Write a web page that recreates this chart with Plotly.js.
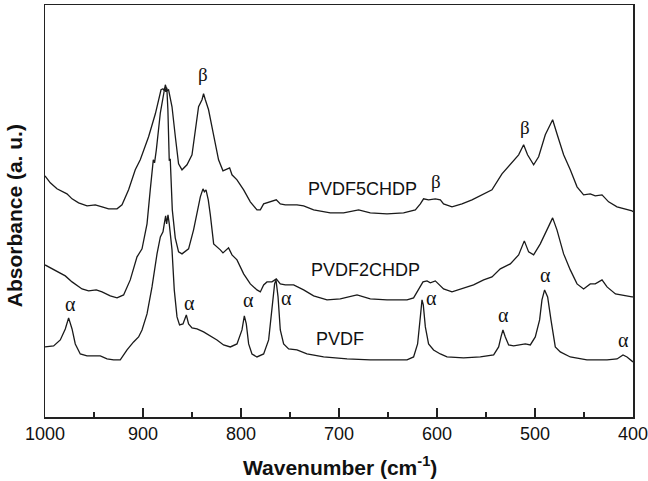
<!DOCTYPE html>
<html>
<head>
<meta charset="utf-8">
<script src="https://cdn.plot.ly/plotly-3.0.1.min.js"></script>
<style>html,body{margin:0;padding:0;background:#fff;}#chart{width:648px;height:481px;}</style>
</head>
<body>
<div id="chart"></div>
<script>
// PVDF5CHDP (top spectrum)
var wn5 = [1000,994.6,987.8,977.6,972.4,965.7,957.1,948.7,941.8,935.1,926.5,921.4,914.7,907.9,902.8,894.3,887.4,881.6,879.6,878.3,877.2,875.5,873.9,870.4,867.0,863.7,860.2,855.1,850.0,846.6,843.3,839.8,838.2,836.4,833.1,828.0,822.9,818.4,814.3,811.6,809.2,804.1,797.3,790.5,783.7,780.3,776.9,770.1,764.0,759.9,754.8,742.9,736.1,725.9,708.9,695.3,680.0,668.1,651.0,634.1,622.1,617.0,613.7,608.6,601.7,596.6,593.3,584.7,574.5,564.3,554.1,543.9,533.7,525.2,516.7,511.6,507.6,501.4,496.3,489.5,482.0,477.6,470.8,464.0,457.1,450.4,443.6,438.5,431.6,424.9,416.3,401.0,400];
var ab5 = [2.41,2.34,2.28,2.23,2.18,2.14,2.11,2.12,2.10,2.08,2.08,2.12,2.27,2.47,2.57,2.80,3.03,3.27,3.28,3.26,3.32,3.26,3.27,3.10,2.80,2.53,2.47,2.52,2.62,2.87,3.10,3.17,3.23,3.17,3.07,2.82,2.57,2.46,2.48,2.49,2.42,2.37,2.27,2.15,2.07,2.07,2.13,2.15,2.17,2.13,2.12,2.12,2.11,2.07,2.04,2.04,2.07,2.04,2.03,2.04,2.07,2.13,2.18,2.17,2.18,2.17,2.13,2.10,2.13,2.17,2.22,2.27,2.43,2.52,2.62,2.72,2.62,2.52,2.60,2.82,2.97,2.83,2.62,2.47,2.30,2.22,2.23,2.21,2.22,2.15,2.10,2.06,2.05];

// PVDF2CHDP (middle spectrum)
var wn2 = [1000,991.2,979.3,972.4,962.2,955.5,947.7,941.8,933.4,926.5,919.8,913.0,906.1,901.0,895.9,892.6,889.5,888.2,886.4,882.3,879.0,877.8,876.7,875.7,874.6,874.0,873.2,872.2,870.1,867.1,863.7,860.2,853.5,848.4,844.9,841.5,838.8,837.4,835.7,833.4,831.3,827.9,821.1,818.4,812.7,809.2,804.1,797.3,790.5,783.7,780.3,776.9,773.5,768.4,764.0,759.9,754.8,746.3,736.1,725.9,712.2,698.7,681.6,668.1,651.0,630.6,623.9,618.8,614.3,610.2,606.8,601.7,593.3,584.7,574.5,562.7,552.4,543.9,535.4,525.2,516.7,510.9,506.5,501.4,494.6,487.8,482.0,477.6,470.8,464.0,457.1,450.4,443.6,438.5,431.6,426.5,417.9,401.0,400];
var ab2 = [1.52,1.47,1.41,1.35,1.28,1.26,1.27,1.25,1.21,1.19,1.22,1.37,1.60,1.68,1.93,2.27,2.57,2.54,2.67,3.04,3.22,3.29,3.25,3.29,3.07,2.62,2.56,2.58,2.07,1.79,1.65,1.63,1.68,1.87,2.03,2.20,2.28,2.25,2.27,2.17,2.02,1.73,1.67,1.64,1.69,1.62,1.57,1.43,1.33,1.27,1.25,1.32,1.35,1.35,1.38,1.33,1.32,1.32,1.27,1.21,1.17,1.18,1.22,1.18,1.17,1.17,1.19,1.27,1.35,1.36,1.34,1.36,1.28,1.25,1.28,1.32,1.37,1.40,1.48,1.53,1.62,1.76,1.65,1.62,1.73,1.88,1.99,1.87,1.63,1.47,1.33,1.28,1.33,1.33,1.37,1.30,1.23,1.20,1.20];

// PVDF (bottom spectrum)
var wn0 = [1000,991.2,984.4,979.3,975.9,972.4,969.1,964.0,957.1,950.4,943.6,936.7,930.0,923.2,916.3,909.6,904.5,901.0,895.9,890.8,885.7,882.3,879.6,878.3,876.9,875.9,874.5,873.2,870.4,868.1,865.3,862.7,859.2,855.8,853.5,850.0,844.9,838.2,831.3,824.5,817.8,810.9,804.1,799.0,796.6,794.6,792.2,788.8,783.7,776.9,771.8,768.4,765.7,764.3,762.2,759.9,756.5,751.4,742.9,732.7,715.7,691.8,668.1,647.7,630.6,623.9,619.8,617.0,615.3,614.0,611.9,608.6,603.5,596.6,589.8,572.9,555.8,542.2,537.1,534.7,532.7,530.3,526.9,521.8,515.0,509.9,504.8,499.7,495.3,492.9,490.2,487.1,483.7,479.3,474.2,464.0,447.0,426.5,416.3,410.2,406.1,401.0,400];
var ab0 = [0.70,0.71,0.77,0.88,0.99,0.88,0.73,0.63,0.61,0.61,0.61,0.58,0.57,0.57,0.67,0.75,0.80,0.87,1.03,1.30,1.63,1.80,1.85,1.93,2.01,1.93,2.02,1.93,1.67,1.27,1.00,0.92,0.93,1.02,0.93,0.89,0.88,0.85,0.81,0.77,0.72,0.70,0.73,0.87,1.01,0.93,0.73,0.63,0.60,0.63,0.77,1.07,1.33,1.37,1.20,0.87,0.73,0.68,0.67,0.63,0.60,0.58,0.57,0.57,0.57,0.60,0.73,1.00,1.17,1.12,0.90,0.73,0.67,0.63,0.60,0.59,0.60,0.62,0.70,0.80,0.87,0.80,0.72,0.71,0.72,0.73,0.72,0.80,0.97,1.17,1.27,1.20,0.97,0.70,0.65,0.60,0.57,0.57,0.58,0.62,0.60,0.55,0.55];

// labels
var seriesNames = ["PVDF5CHDP","PVDF2CHDP","PVDF"];
var nameX = [676.5, 673.2, 698.7];
var nameY = [2.28, 1.47, 0.78];
var betaX = [838.5, 600.7, 509.9];
var betaY = [3.42, 2.35, 2.89];
var alphaX = [974.2, 852.8, 792.2, 753.1, 605.8, 532.0, 489.5, 409.6];
var alphaY = [1.13, 1.14, 1.17, 1.19, 1.19, 1.02, 1.42, 0.77];
var xTicks = [1000, 900, 800, 700, 600, 500, 400];
var xMinorTicks = [950, 850, 750, 650, 550, 450];

var lineStyle = {color:'#1a1a1a', width:1.3};
var traces = [
  {x:wn5, y:ab5, name:seriesNames[0], mode:'lines', line:lineStyle, hoverinfo:'skip'},
  {x:wn2, y:ab2, name:seriesNames[1], mode:'lines', line:lineStyle, hoverinfo:'skip'},
  {x:wn0, y:ab0, name:seriesNames[2], mode:'lines', line:lineStyle, hoverinfo:'skip'}
];

var ann = [];
for (var i=0;i<seriesNames.length;i++){
  ann.push({x:nameX[i], y:nameY[i], xref:'x', yref:'y', text:seriesNames[i], showarrow:false,
    xanchor:'center', yanchor:'middle',
    font:{family:'Liberation Sans, Arial, sans-serif', size:18, color:'#111'}});
}
for (var i=0;i<betaX.length;i++){
  ann.push({x:betaX[i], y:betaY[i], xref:'x', yref:'y', text:'β', showarrow:false,
    xanchor:'center', yanchor:'middle',
    font:{family:'Liberation Serif, Times New Roman, serif', size:19, color:'#111'}});
}
for (var i=0;i<alphaX.length;i++){
  ann.push({x:alphaX[i], y:alphaY[i], xref:'x', yref:'y', text:'α', showarrow:false,
    xanchor:'center', yanchor:'middle',
    font:{family:'Liberation Serif, Times New Roman, serif', size:20, color:'#111'}});
}
ann.push({x:-0.0505, y:0.488, xref:'paper', yref:'paper', text:'Absorbance (a. u.)', textangle:-90, showarrow:false,
  xanchor:'center', yanchor:'middle',
  font:{family:'Liberation Sans, Arial, sans-serif', size:21, color:'#111', weight:'bold'}});
ann.push({x:0.502, y:-0.12, xref:'paper', yref:'paper', text:'Wavenumber (cm<sup>-1</sup>)', showarrow:false,
  xanchor:'center', yanchor:'middle',
  font:{family:'Liberation Sans, Arial, sans-serif', size:21, color:'#111', weight:'bold'}});

var layout = {
  width:648, height:481,
  margin:{l:44.7, r:15.3, t:5, b:64.3},
  paper_bgcolor:'#fff', plot_bgcolor:'#fff',
  showlegend:false,
  xaxis:{range:[1000,400], tickvals:xTicks, ticktext:xTicks.map(String), ticks:'inside', ticklen:9, tickwidth:1.2, tickcolor:'#222',
    ticklabeloverflow:'allow',
    showline:true, linecolor:'#222', linewidth:1.5, mirror:true, showgrid:false, zeroline:false,
    minor:{tickvals:xMinorTicks, ticks:'inside', ticklen:5, tickwidth:1.2, tickcolor:'#222'},
    tickfont:{family:'Liberation Sans, Arial, sans-serif', size:18, color:'#111'}},
  yaxis:{range:[0,4.117], showticklabels:false, ticks:'', showline:true, linecolor:'#222', linewidth:1.5, mirror:true,
    showgrid:false, zeroline:false},
  annotations:ann
};
Plotly.newPlot('chart', traces, layout, {staticPlot:true, displayModeBar:false});
</script>
</body>
</html>
